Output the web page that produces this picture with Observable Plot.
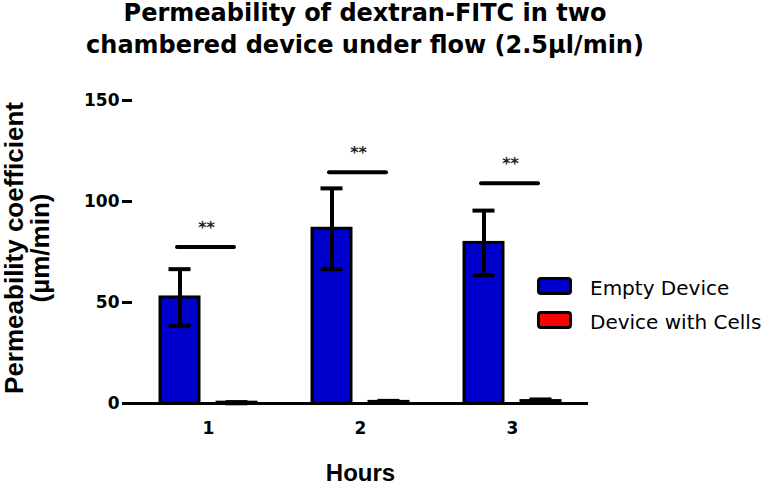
<!DOCTYPE html>
<html><head><meta charset="utf-8">
<script src="https://cdn.jsdelivr.net/npm/d3@7"></script>
<script src="https://cdn.jsdelivr.net/npm/@observablehq/plot@0.6"></script>
<style>
body{margin:0;background:#fff;}
#wrap{position:relative;width:777px;height:486px;overflow:hidden;background:#fff;}
.tl{position:absolute;left:0;width:730px;text-align:center;font-family:"DejaVu Sans";font-weight:bold;font-size:24px;line-height:24px;color:#000;white-space:nowrap;}
#chart{position:absolute;left:0;top:62px;}
.lg{position:absolute;font-family:"DejaVu Sans";font-size:20px;line-height:20px;white-space:nowrap;color:#000;}
.sw{position:absolute;box-sizing:border-box;width:35px;height:18px;border:3px solid #000;border-radius:4px;}
</style></head><body>
<div id="wrap">
 <div class="tl" style="top:1px">Permeability of dextran-FITC in two</div>
 <div class="tl" style="top:33px">chambered device under flow (2.5µl/min)</div>
 <div id="chart"></div>
 <div id="legend"></div>
</div>
<script>
const hours = ["1", "2", "3"];
const series = ["Empty Device", "Device with Cells"];
const colors = ["#0000cc", "#ff0000"];
const emptyMean = [52.5, 86.5, 79.5];
const emptySd = [14, 20, 16];
const cellsMean = [0.4, 0.8, 1.2];
const cellsSd = [0.3, 0.5, 0.8];
const sigLevel = [77.5, 114.5, 109];
const sigText = ["**", "**", "**"];
const yTicks = [0, 50, 100, 150];

const rows = [];
hours.forEach((h, i) => {
  rows.push({hour: h, series: series[0], mean: emptyMean[i], sd: emptySd[i]});
  rows.push({hour: h, series: series[1], mean: cellsMean[i], sd: cellsSd[i]});
});
const sig = hours.map((h, i) => ({hour: h, level: sigLevel[i], text: sigText[i]}));

const chart = Plot.plot({
  width: 777, height: 424,
  marginTop: 38, marginBottom: 83, marginLeft: 131, marginRight: 189,
  style: {fontFamily: "DejaVu Sans", fontSize: "17px", fontWeight: "bold", color: "#000", background: "transparent", overflow: "visible"},
  fx: {domain: hours, padding: 0, label: "Hours"},
  x: {domain: series, paddingInner: 0.316, paddingOuter: 0.49, axis: null},
  y: {domain: [0, 150]},
  color: {domain: series, range: colors},
  marks: [
    Plot.barY(rows, {fx: "hour", x: "series", y: "mean", fill: "series", stroke: "#000", strokeWidth: 3}),
    Plot.ruleX(rows, {fx: "hour", x: "series", y1: d => d.mean - d.sd, y2: d => d.mean + d.sd, stroke: "#000", strokeWidth: 4}),
    Plot.tickY(rows, {fx: "hour", x: "series", y: d => d.mean + d.sd, stroke: "#000", strokeWidth: 4, insetLeft: 8.5, insetRight: 8.5}),
    Plot.tickY(rows, {fx: "hour", x: "series", y: d => d.mean - d.sd, stroke: "#000", strokeWidth: 4, insetLeft: 8.5, insetRight: 8.5}),
    Plot.ruleY([0], {stroke: "#000", strokeWidth: 3}),
    Plot.link(sig, {fx: "hour", x1: () => series[0], x2: () => series[1], y1: "level", y2: "level", dx: -3, stroke: "#000", strokeWidth: 4, strokeLinecap: "round"}),
    Plot.text(sig, {fx: "hour", y: "level", text: "text", dy: -19, dx: -2, fontSize: 16, fill: "#222"}),
    Plot.axisY({ticks: yTicks, tickSize: 10, tickPadding: 3, strokeWidth: 3, line: true,
      label: "Permeability coefficient\n(µm/min)", labelAnchor: "center", labelOffset: 127.5, labelArrow: "none"}),
    Plot.axisFx({anchor: "bottom", tickSize: 0, tickPadding: 18, label: "Hours", labelAnchor: "center", labelOffset: 77.5, labelArrow: "none"})
  ]
});
document.getElementById("chart").appendChild(chart);

const s = d3.select(chart);
s.selectAll('g[aria-label="y-axis label"]').each(function() {
  const g = d3.select(this);
  g.style("font-family", "Liberation Sans").style("font-size", "26px").style("font-weight", "bold")
   .attr("transform", (g.attr("transform") || "") + " translate(0,-4)");
});
s.selectAll('g[aria-label="fx-axis label"]').style("font-family", "Liberation Sans").style("font-size", "24px").style("font-weight", "bold");

const legend = document.getElementById("legend");
const legendTop = [277, 311];
series.forEach((name, i) => {
  const sw = document.createElement("div");
  sw.className = "sw";
  sw.style.left = "537px";
  sw.style.top = legendTop[i] + "px";
  sw.style.background = colors[i];
  legend.appendChild(sw);
  const t = document.createElement("div");
  t.className = "lg";
  t.style.left = "590px";
  t.style.top = (legendTop[i] + 1) + "px";
  t.textContent = name;
  legend.appendChild(t);
});
</script>
</body></html>
